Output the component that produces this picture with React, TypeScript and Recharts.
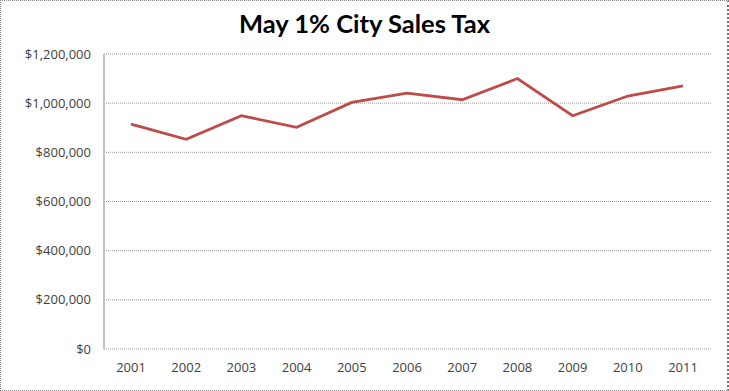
import { LineChart, Line, XAxis, YAxis, CartesianGrid } from 'recharts';

const years = ['2001', '2002', '2003', '2004', '2005', '2006', '2007', '2008', '2009', '2010', '2011'];
const salesTax = [915000, 853000, 949000, 902000, 1003000, 1041000, 1014000, 1100000, 949000, 1029000, 1070000];
const yTicks = [0, 200000, 400000, 600000, 800000, 1000000, 1200000];

const data = years.map((year, i) => ({ year, tax: salesTax[i] }));

const formatDollar = (v: number) => '$' + v.toLocaleString('en-US');

const tickFont = '"Open Sans", sans-serif';

export default function App() {
  return (
    <div style={{ position: 'relative', width: 729, height: 391, background: '#fff' }}>
      <style>{'body{margin:0}'}</style>
      <div
        style={{
          position: 'absolute',
          left: 0,
          top: 0,
          width: 726,
          height: 389,
          borderTop: '1px dotted #808080',
          borderLeft: '1px dotted #808080',
          borderBottom: '1px dotted #808080',
          borderRight: '2px dotted #707070',
        }}
      />
      <div
        style={{
          position: 'absolute',
          left: 0,
          top: 8,
          width: 729,
          textAlign: 'center',
          fontFamily: 'Lato, sans-serif',
          fontWeight: 700,
          fontSize: 25.5,
          lineHeight: 1.2,
          color: '#000',
        }}
      >
        May 1% City Sales Tax
      </div>
      <LineChart
        width={729}
        height={391}
        data={data}
        margin={{ top: 54, right: 18, bottom: 0, left: 0 }}
        style={{ position: 'absolute', left: 0, top: 0 }}
      >
        <CartesianGrid vertical={false} stroke="#9a9a9a" strokeDasharray="1 1" />
        <XAxis
          dataKey="year"
          height={42}
          padding={{ left: 27, right: 28 }}
          axisLine={false}
          tickLine={false}
          tickSize={0}
          tickMargin={14}
          tick={{ fill: '#404040', fontSize: 13, fontFamily: tickFont }}
        />
        <YAxis
          width={104}
          domain={[0, 1200000]}
          ticks={yTicks}
          tickFormatter={formatDollar}
          axisLine={{ stroke: '#c0c0c0', strokeWidth: 2 }}
          tickLine={false}
          tickSize={0}
          tickMargin={13}
          tick={{ fill: '#404040', fontSize: 13, fontFamily: tickFont }}
        />
        <Line
          type="linear"
          dataKey="tax"
          stroke="#be4b48"
          strokeWidth={2.75}
          dot={false}
          isAnimationActive={false}
        />
      </LineChart>
    </div>
  );
}
